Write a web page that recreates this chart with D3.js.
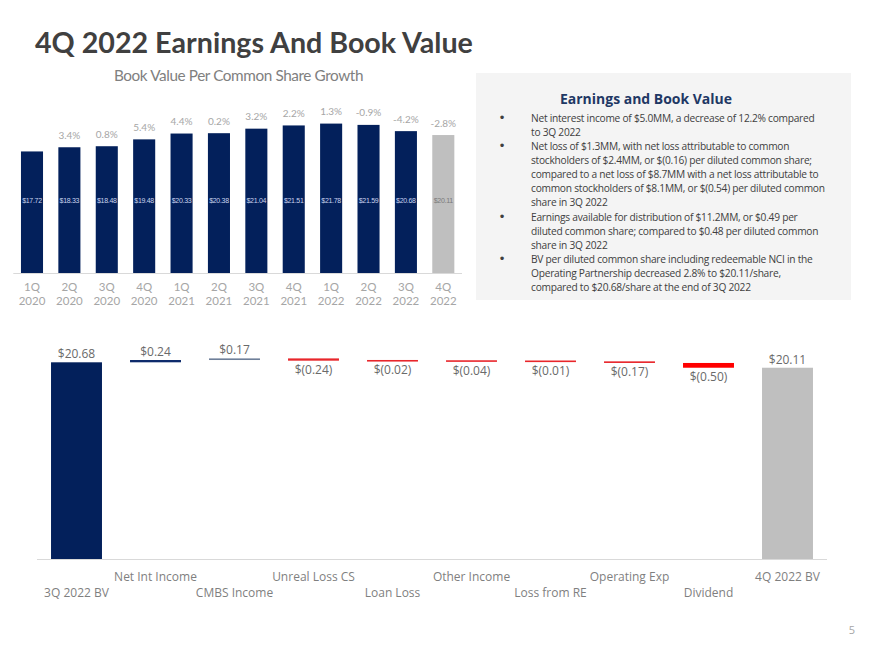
<!DOCTYPE html>
<html><head><meta charset="utf-8">
<script src="https://cdn.jsdelivr.net/npm/d3@7/dist/d3.min.js"></script>
<style>
html,body{margin:0;padding:0;background:#fff;}
svg{display:block;}
</style></head>
<body>
<svg id="c" width="880" height="660"></svg>
<script>
// ---------- DATA ----------
const quarters = ["1Q","2Q","3Q","4Q","1Q","2Q","3Q","4Q","1Q","2Q","3Q","4Q"];
const years    = ["2020","2020","2020","2020","2021","2021","2021","2021","2022","2022","2022","2022"];
const bookValues = [17.72,18.33,18.48,19.48,20.33,20.38,21.04,21.51,21.78,21.59,20.68,20.11];
const growthLabels = ["","3.4%","0.8%","5.4%","4.4%","0.2%","3.2%","2.2%","1.3%","-0.9%","-4.2%","-2.8%"];

const wfCategories = ["3Q 2022 BV","Net Int Income","CMBS Income","Unreal Loss CS","Loan Loss","Other Income","Loss from RE","Operating Exp","Dividend","4Q 2022 BV"];
const wfValues = [20.68,0.24,0.17,-0.24,-0.02,-0.04,-0.01,-0.17,-0.50,20.11];
const wfIsTotal = [true,false,false,false,false,false,false,false,false,true];

const pageTitle = "4Q 2022 Earnings And Book Value";
const chartTitle = "Book Value Per Common Share Growth";
const boxTitle = "Earnings and Book Value";
const bullets = [
  ["Net interest income of $5.0MM, a decrease of 12.2% compared","to 3Q 2022"],
  ["Net loss of $1.3MM, with net loss attributable to common","stockholders of $2.4MM, or $(0.16) per diluted common share;","compared to a net loss of $8.7MM with a net loss attributable to","common stockholders of $8.1MM, or $(0.54) per diluted common","share in 3Q 2022"],
  ["Earnings available for distribution of $11.2MM, or $0.49 per","diluted common share; compared to $0.48 per diluted common","share in 3Q 2022"],
  ["BV per diluted common share including redeemable NCI in the","Operating Partnership decreased 2.8% to $20.11/share,","compared to $20.68/share at the end of 3Q 2022"]
];
const pageNumber = "5";

// ---------- DRAW ----------
const svg = d3.select("#c");
const NAVY = "#03205b";
const GRAY_BAR = "#bfbfbf";

function fitWidth(sel, w){
  const n = sel.node(); const len = n.getComputedTextLength();
  if (len > 0){ const fs = parseFloat(sel.attr("font-size")); sel.attr("font-size", fs*w/len); }
}

// page title
const t = svg.append("text").attr("x",35).attr("y",53)
  .attr("font-family","Lato, 'Open Sans', sans-serif").attr("font-weight","700")
  .attr("font-size",25).attr("fill","#404040").text(pageTitle);
fitWidth(t, 438);

// ----- top bar chart -----
const xb = d3.scaleBand().domain(d3.range(quarters.length)).range([13.3,462]).paddingInner(0.41).paddingOuter(0.205);
const yb = d3.scaleLinear().domain([0,22]).range([273,273-22*6.86]);

const st = svg.append("text").attr("x",238.5).attr("y",81).attr("text-anchor","middle")
  .attr("font-family","Lato, sans-serif").attr("font-size",13).attr("fill","#808080")
  .attr("letter-spacing","-0.4").text(chartTitle);
fitWidth(st, 247);

const gTop = svg.append("g");
gTop.selectAll("rect").data(bookValues).join("rect")
  .attr("x",(d,i)=>xb(i)).attr("width",xb.bandwidth())
  .attr("y",d=>yb(d)).attr("height",d=>yb(0)-yb(d))
  .attr("fill",(d,i)=> i===bookValues.length-1 ? GRAY_BAR : NAVY);

gTop.selectAll("text.val").data(bookValues).join("text").attr("class","val")
  .attr("x",(d,i)=>xb(i)+xb.bandwidth()/2).attr("y",202.5).attr("text-anchor","middle")
  .attr("font-family","'Liberation Sans Narrow','Liberation Sans',sans-serif").attr("font-size",7)
  .attr("letter-spacing","-0.3")
  .attr("fill",(d,i)=> i===bookValues.length-1 ? "#7a7a7a" : "#c9d3ee")
  .text(d=>"$"+d.toFixed(2));

gTop.selectAll("text.pct").data(growthLabels).join("text").attr("class","pct")
  .attr("x",(d,i)=>xb(i)+xb.bandwidth()/2).attr("y",(d,i)=>yb(bookValues[i])-8.5)
  .attr("text-anchor","middle").attr("font-family","Lato, sans-serif").attr("font-size",10)
  .attr("fill","#a6a6a6").text(d=>d);

// axis
const axTop = svg.append("g").attr("transform","translate(0,273.5)")
  .call(d3.axisBottom(xb).tickSize(0).tickFormat(()=>""));
axTop.select(".domain").attr("stroke","#d9d9d9").attr("d","M13.3,0H462");
axTop.selectAll(".tick text").remove();
axTop.selectAll(".tick").each(function(d){
  const g = d3.select(this);
  g.append("text").attr("text-anchor","middle").attr("font-family","Lato, sans-serif")
    .attr("font-size",11.5).attr("fill","#a6a6a6").attr("x",0).attr("y",17.5).text(quarters[d]);
  g.append("text").attr("text-anchor","middle").attr("font-family","Lato, sans-serif")
    .attr("font-size",11.5).attr("fill","#a6a6a6").attr("x",0).attr("y",31.8).text(years[d]);
});

// ----- text box -----
svg.append("rect").attr("x",476).attr("y",73).attr("width",375).attr("height",227).attr("fill","#f4f4f4");
const bt = svg.append("text").attr("x",646).attr("y",104).attr("text-anchor","middle")
  .attr("font-family","'Open Sans', sans-serif").attr("font-weight","700").attr("font-size",15)
  .attr("fill","#1f3864").text(boxTitle);
fitWidth(bt, 172);

const lineH = 14.1;
let lineIdx = 0;
const bodyG = svg.append("g").attr("font-family","'Open Sans', sans-serif").attr("font-size",10).attr("fill","#404040");
const lineNodes = [];
bullets.forEach(b=>{
  b.forEach((ln,j)=>{
    const y = 121.8 + lineIdx*lineH;
    if (j===0) bodyG.append("text").attr("x",498.5).attr("y",y).attr("font-size",12).attr("font-family","'DejaVu Sans', sans-serif").text("•");
    const tn = bodyG.append("text").attr("x",531).attr("y",y).attr("letter-spacing","-0.25").text(ln);
    lineNodes.push(tn);
    lineIdx++;
  });
});
const maxLen = d3.max(lineNodes, n=>n.node().getComputedTextLength());
const k = 294/maxLen;
lineNodes.forEach(n=>n.attr("font-size",10*k));

// ----- waterfall -----
const xw = d3.scaleBand().domain(wfCategories).range([37,827]).paddingInner(0.355).paddingOuter(0.1775);
const yw = d3.scaleLinear().domain([0,22]).range([559.3,559.3-22*9.526]);

let run = 0;
const wf = wfCategories.map((c,i)=>{
  const v = wfValues[i];
  let lo, hi;
  if (wfIsTotal[i]) { lo = 0; hi = v; run = v; }
  else { const s = run; run = run + v; lo = Math.min(s,run); hi = Math.max(s,run); }
  return {c, v, lo, hi, total: wfIsTotal[i]};
});
const wfColor = d3.scaleOrdinal().domain(wfCategories)
  .range([NAVY,"#0d2a6b","#6e7f99","#e8262b","#e8262b","#e8262b","#e8262b","#e8262b","#ff0000",GRAY_BAR]);

const gW = svg.append("g");
gW.selectAll("rect").data(wf).join("rect")
  .attr("x",d=>xw(d.c)).attr("width",xw.bandwidth())
  .attr("y",d=>{ const h = yw(d.lo)-yw(d.hi); return h<1.6 ? (yw(d.hi)+yw(d.lo))/2-0.8 : yw(d.hi); })
  .attr("height",d=>Math.max(1.6, yw(d.lo)-yw(d.hi)))
  .attr("fill",d=>wfColor(d.c));

const fmt = v => v<0 ? "$(" + Math.abs(v).toFixed(2) + ")" : "$" + v.toFixed(2);
gW.selectAll("text.wv").data(wf).join("text").attr("class","wv")
  .attr("x",d=>xw(d.c)+xw.bandwidth()/2)
  .attr("y",d=> d.v>=0 ? yw(d.hi)-4 : yw(d.lo)+13.5)
  .attr("text-anchor","middle").attr("font-family","'Open Sans', sans-serif").attr("font-size",12)
  .attr("fill","#6a6a6a").text(d=>fmt(d.v));

const axW = svg.append("g").attr("transform","translate(0,559.5)")
  .call(d3.axisBottom(xw).tickSize(0));
axW.select(".domain").attr("stroke","#d9d9d9").attr("d","M37,0H827");
axW.selectAll(".tick text")
  .attr("y",(d,i)=> i%2===0 ? 37.5 : 21.5).attr("dy",0)
  .attr("font-family","'Open Sans', sans-serif").attr("font-size",12).attr("fill","#7f7f7f");

// page number
svg.append("text").attr("x",852).attr("y",634).attr("text-anchor","middle")
  .attr("font-family","'Open Sans', sans-serif").attr("font-size",11).attr("fill","#a6a6a6").text(pageNumber);
</script>
</body></html>
